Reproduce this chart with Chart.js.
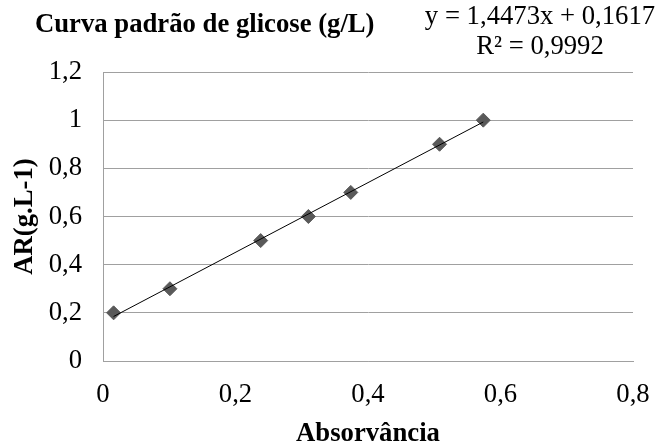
<!DOCTYPE html>
<html>
<head>
<meta charset="utf-8">
<script src="https://cdn.jsdelivr.net/npm/chart.js@4"></script>
<style>
  body { margin: 0; background: #fff; }
</style>
</head>
<body>
<canvas id="curva" width="660" height="446"></canvas>
<script>
// dados
var absorvancia = [0.016, 0.101, 0.238, 0.310, 0.374, 0.508, 0.574];
var glicose = [0.2, 0.3, 0.5, 0.6, 0.7, 0.9, 1.0];
var xTicks = [0, 0.2, 0.4, 0.6, 0.8];
var yTicks = [0, 0.2, 0.4, 0.6, 0.8, 1, 1.2];
var slope = 1.4473, intercept = 0.1617;
var titulo = 'Curva padrão de glicose (g/L)';
var equacao = ['y = 1,4473x + 0,1617', 'R² = 0,9992'];

var pontos = absorvancia.map(function (x, i) { return { x: x, y: glicose[i] }; });
var xmin = Math.min.apply(null, absorvancia), xmax = Math.max.apply(null, absorvancia);
var tendencia = [
  { x: xmin, y: slope * xmin + intercept },
  { x: xmax, y: slope * xmax + intercept }
];

function virgula(v) { return String(Math.round(v * 10) / 10).replace('.', ','); }

var FONTE = "'Liberation Serif', 'Times New Roman', serif";

var textos = {
  id: 'textos',
  afterDraw: function (chart) {
    var ctx = chart.ctx;
    ctx.save();
    ctx.fillStyle = '#000';
    ctx.textBaseline = 'alphabetic';
    ctx.font = 'bold 26.7px ' + FONTE;
    ctx.textAlign = 'left';
    ctx.fillText(titulo, 35, 32);
    ctx.font = '26.7px ' + FONTE;
    ctx.textAlign = 'center';
    ctx.fillText(equacao[0], 540, 24);
    ctx.fillText(equacao[1], 540, 54);
    ctx.restore();
  }
};

var ctx = document.getElementById('curva').getContext('2d');
var grafico = new Chart(ctx, {
  type: 'scatter',
  data: {
    datasets: [{
      label: 'tendencia',
      data: tendencia,
      showLine: true,
      borderColor: '#000',
      borderWidth: 1,
      pointRadius: 0,
      order: 0
    }, {
      label: 'glicose',
      data: pontos,
      pointStyle: 'rectRot',
      pointRadius: 7,
      pointBackgroundColor: '#595959',
      pointBorderColor: '#595959',
      pointBorderWidth: 1,
      order: 1
    }]
  },
  options: {
    responsive: false,
    animation: false,
    layout: { padding: { top: 72, right: 27, left: 0, bottom: 0 } },
    plugins: {
      legend: { display: false },
      tooltip: { enabled: false }
    },
    scales: {
      x: {
        type: 'linear',
        min: 0, max: 0.8,
        afterBuildTicks: function (axis) { axis.ticks = xTicks.map(function (v) { return { value: v }; }); },
        afterFit: function (axis) { axis.height = 85; axis.paddingLeft = 0; axis.paddingRight = 0; },
        grid: { display: false, drawTicks: false },
        border: { display: true, color: '#a0a0a0', width: 1 },
        ticks: {
          padding: 18,
          color: '#000',
          font: { family: FONTE, size: 26.7 },
          maxRotation: 0,
          callback: function (v) { return virgula(v); }
        },
        title: {
          display: true,
          text: 'Absorvância',
          color: '#000',
          font: { family: FONTE, size: 26.7, weight: 'bold', lineHeight: 1 },
          padding: { top: 0, bottom: -1 }
        }
      },
      y: {
        type: 'linear',
        min: 0, max: 1.2,
        afterBuildTicks: function (axis) { axis.ticks = yTicks.map(function (v) { return { value: v }; }); },
        afterFit: function (axis) { axis.width = 103; axis.paddingTop = 0; axis.paddingBottom = 0; },
        grid: { color: '#a0a0a0', drawTicks: false },
        border: { display: true, color: '#a0a0a0', width: 1 },
        ticks: {
          padding: 21,
          color: '#000',
          font: { family: FONTE, size: 26.7 },
          callback: function (v) { return virgula(v); }
        },
        title: {
          display: true,
          text: 'AR(g.L-1)',
          color: '#000',
          font: { family: FONTE, size: 26.7, weight: 'bold' },
          padding: { top: 9, bottom: 0 }
        }
      }
    }
  },
  plugins: [textos]
});
</script>
</body>
</html>
